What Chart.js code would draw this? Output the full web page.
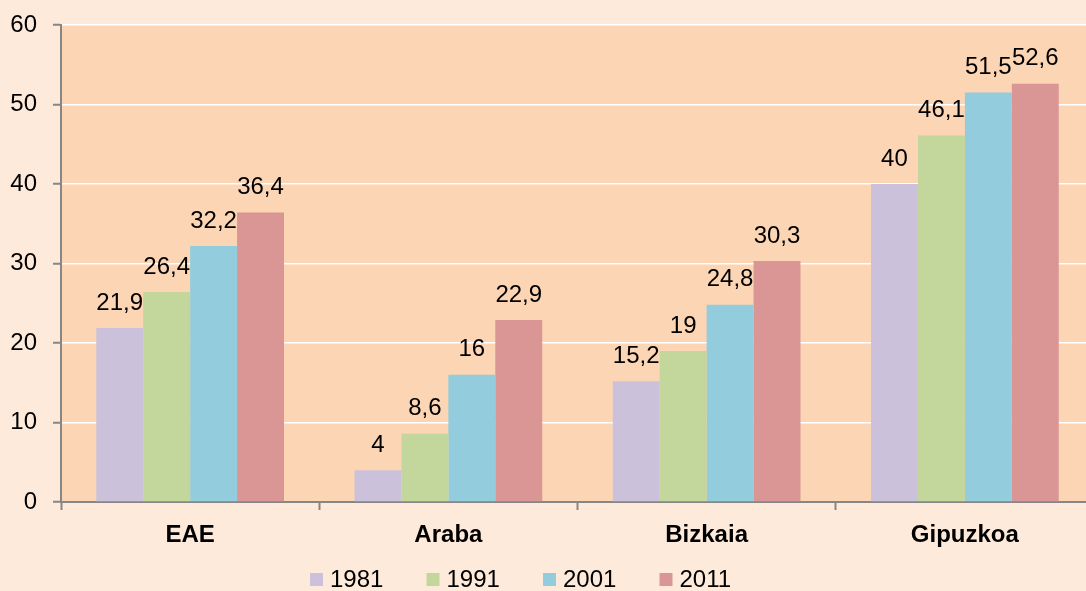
<!DOCTYPE html>
<html>
<head>
<meta charset="utf-8">
<script src="https://cdn.jsdelivr.net/npm/chart.js@4.4.0/dist/chart.umd.min.js"></script>
<style>
    html, body { margin: 0; padding: 0; overflow: hidden; background: #FDEADA; }
    #wrap { width: 1094px; height: 591px; }
</style>
</head>
<body>
<div id="wrap"><canvas id="chart" width="1094" height="591"></canvas></div>
<script>
        // Data
        const regions = ['EAE', 'Araba', 'Bizkaia', 'Gipuzkoa'];
        const years = ['1981', '1991', '2001', '2011'];
        const values1981 = [21.9, 4, 15.2, 40];
        const values1991 = [26.4, 8.6, 19, 46.1];
        const values2001 = [32.2, 16, 24.8, 51.5];
        const values2011 = [36.4, 22.9, 30.3, 52.6];
        const yTicks = [0, 10, 20, 30, 40, 50, 60];

        const colors = ['#CCC1DA', '#C3D69B', '#93CDDD', '#D99694'];
        const font = '"Liberation Sans", Arial, sans-serif';

        // Plot area background
        const plotBg = {
            id: 'plotBg',
            beforeDraw(chart) {
                const { ctx, chartArea: a } = chart;
                ctx.save();
                ctx.fillStyle = '#FCD5B5';
                ctx.fillRect(a.left, a.top, a.right - a.left, a.bottom - a.top);
                ctx.restore();
            }
        };

        // Value labels above bars
        const valueLabels = {
            id: 'valueLabels',
            afterDatasetsDraw(chart) {
                const ctx = chart.ctx;
                ctx.save();
                ctx.fillStyle = '#000';
                ctx.font = '24px ' + font;
                ctx.textAlign = 'center';
                ctx.textBaseline = 'middle';
                chart.data.datasets.forEach((ds, i) => {
                    chart.getDatasetMeta(i).data.forEach((bar, j) => {
                        const txt = String(ds.data[j]).replace('.', ',');
                        ctx.fillText(txt, bar.x, bar.y - 25);
                    });
                });
                ctx.restore();
            }
        };

        // Legend drawn at the bottom
        const bottomLegend = {
            id: 'bottomLegend',
            afterDraw(chart) {
                const ctx = chart.ctx;
                ctx.save();
                ctx.font = '24px ' + font;
                ctx.textBaseline = 'middle';
                ctx.textAlign = 'left';
                let x = 310;
                const y = 580;
                chart.data.datasets.forEach((ds) => {
                    ctx.fillStyle = ds.backgroundColor;
                    ctx.fillRect(x, y - 7, 13, 13);
                    ctx.fillStyle = '#000';
                    ctx.fillText(ds.label, x + 20, y);
                    x += 116.5;
                });
                ctx.restore();
            }
        };

        const ctx = document.getElementById('chart').getContext('2d');
        new Chart(ctx, {
            type: 'bar',
            data: {
                labels: regions,
                datasets: [
                    { label: years[0], data: values1981, backgroundColor: colors[0] },
                    { label: years[1], data: values1991, backgroundColor: colors[1] },
                    { label: years[2], data: values2001, backgroundColor: colors[2] },
                    { label: years[3], data: values2011, backgroundColor: colors[3] }
                ]
            },
            options: {
                responsive: false,
                animation: false,
                layout: { padding: { top: 25, right: 0, bottom: 0, left: 0 } },
                datasets: {
                    bar: { barPercentage: 1, categoryPercentage: 0.727, borderWidth: 0 }
                },
                scales: {
                    x: {
                        afterFit(scale) { scale.height = 89; scale.paddingLeft = 0; scale.paddingRight = 0; },
                        grid: {
                            offset: true,
                            drawOnChartArea: false,
                            tickLength: 8,
                            tickColor: '#868686',
                            tickWidth: 2
                        },
                        border: { color: '#868686', width: 2 },
                        ticks: {
                            color: '#000',
                            padding: 11,
                            font: { family: font, size: 24, weight: 'bold' }
                        }
                    },
                    y: {
                        min: 0,
                        max: 60,
                        afterFit(scale) { scale.width = 61; scale.paddingTop = 0; scale.paddingBottom = 0; },
                        afterBuildTicks(scale) { scale.ticks = yTicks.map(v => ({ value: v })); },
                        grid: {
                            color: '#FFFFFF',
                            lineWidth: 1.5,
                            tickLength: 8,
                            tickColor: '#868686',
                            tickWidth: 2
                        },
                        border: { color: '#868686', width: 2 },
                        ticks: {
                            color: '#000',
                            padding: 16,
                            font: { family: font, size: 24 }
                        }
                    }
                },
                plugins: {
                    legend: { display: false },
                    tooltip: { enabled: false }
                }
            },
            plugins: [plotBg, valueLabels, bottomLegend]
        });
</script>
</body>
</html>
